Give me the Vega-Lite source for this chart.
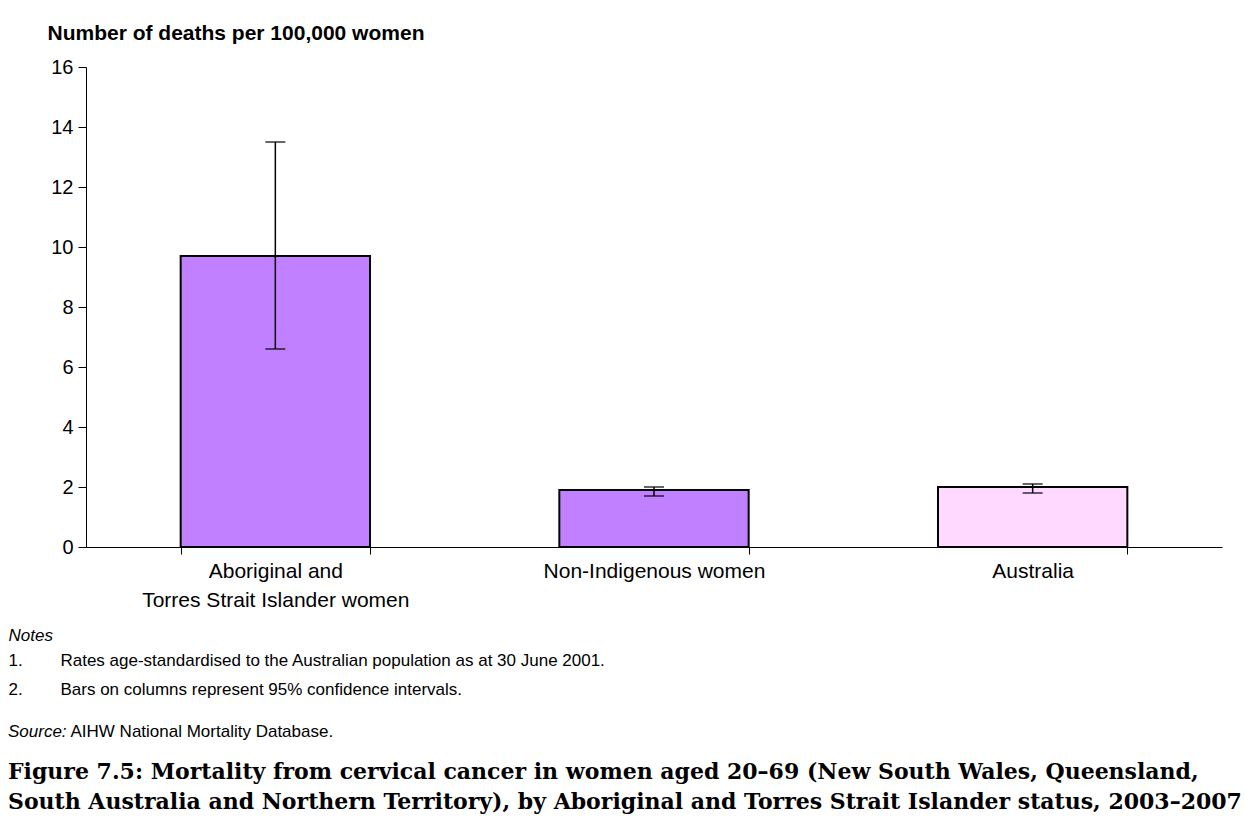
{
  "$schema": "https://vega.github.io/schema/vega-lite/v6.json",
  "width": 1136,
  "height": 480,
  "autosize": {"type": "none"},
  "padding": {"left": 86, "top": 67, "right": 23, "bottom": 272},
  "background": "white",
  "data": {
    "values": [
      {"group": "Aboriginal and Torres Strait Islander women", "rate": 9.7, "lower": 6.6, "upper": 13.5, "series": "Indigenous"},
      {"group": "Non-Indigenous women", "rate": 1.9, "lower": 1.7, "upper": 2.0, "series": "Non-Indigenous"},
      {"group": "Australia", "rate": 2.0, "lower": 1.8, "upper": 2.1, "series": "Australia"}
    ]
  },
  "title": {
    "text": "Source:",
    "subtitle": [
      "Figure 7.5: Mortality from cervical cancer in women aged 20–69 (New South Wales, Queensland,",
      "South Australia and Northern Territory), by Aboriginal and Torres Strait Islander status, 2003–2007"
    ],
    "orient": "bottom",
    "anchor": "start",
    "frame": "group",
    "dx": -78,
    "offset": -15,
    "font": "Liberation Sans",
    "fontSize": 17,
    "fontStyle": "italic",
    "fontWeight": "normal",
    "color": "black",
    "subtitleFont": "DejaVu Serif",
    "subtitleFontSize": 22,
    "subtitleFontWeight": "bold",
    "subtitleLineHeight": 30,
    "subtitleColor": "black",
    "subtitlePadding": 21
  },
  "layer": [
    {
      "encoding": {
        "x": {
          "field": "group",
          "type": "nominal",
          "sort": null,
          "scale": {"paddingInner": 0.5, "paddingOuter": 0.25},
          "axis": {
            "orient": "bottom",
            "title": "Notes",
            "titleFont": "Liberation Sans",
            "titleFontSize": 17,
            "titleFontStyle": "italic",
            "titleFontWeight": "normal",
            "titleColor": "black",
            "titleAlign": "left",
            "titleBaseline": "alphabetic",
            "titleX": -78,
            "titleY": 93,
            "labelExpr": "datum.value == 'Aboriginal and Torres Strait Islander women' ? ['Aboriginal and', 'Torres Strait Islander women'] : datum.value",
            "labelAngle": 0,
            "labelLimit": 0,
            "labelFont": "Liberation Sans",
            "labelFontSize": 21,
            "labelColor": "black",
            "labelLineHeight": 29,
            "labelPadding": 6,
            "tickBand": "extent",
            "tickSize": 7,
            "tickColor": "black",
            "domainColor": "black"
          }
        },
        "y": {
          "field": "rate",
          "type": "quantitative",
          "scale": {"domain": [0, 16], "nice": false},
          "axis": {
            "orient": "left",
            "title": "Number of deaths per 100,000 women",
            "titleAngle": 0,
            "titleAlign": "left",
            "titleBaseline": "alphabetic",
            "titleX": -39,
            "titleY": -28,
            "titleFont": "Liberation Sans",
            "titleFontSize": 21,
            "titleFontWeight": "bold",
            "titleColor": "black",
            "values": [0, 2, 4, 6, 8, 10, 12, 14, 16],
            "grid": false,
            "labelFont": "Liberation Sans",
            "labelFontSize": 20,
            "labelColor": "black",
            "labelPadding": 5,
            "tickSize": 8,
            "tickColor": "black",
            "domainColor": "black"
          }
        }
      },
      "layer": [
        {
          "mark": {"type": "bar", "stroke": "black", "strokeWidth": 2},
          "encoding": {
            "fill": {
              "field": "series",
              "type": "nominal",
              "scale": {"domain": ["Indigenous", "Non-Indigenous", "Australia"], "range": ["#C080FF", "#C080FF", "#FFD9FF"]},
              "legend": null
            }
          }
        },
        {
          "mark": {"type": "rule", "color": "black", "strokeWidth": 1.5},
          "encoding": {
            "y": {"field": "lower", "type": "quantitative"},
            "y2": {"field": "upper"}
          }
        }
      ]
    },
    {
      "encoding": {
        "x": {
          "field": "group",
          "type": "nominal",
          "sort": null,
          "scale": {"paddingInner": 0.5, "paddingOuter": 0.25},
          "axis": {
            "orient": "top",
            "title": "AIHW National Mortality Database.",
            "titleFont": "Liberation Sans",
            "titleFontSize": 17,
            "titleFontWeight": "normal",
            "titleColor": "black",
            "titleAlign": "left",
            "titleBaseline": "alphabetic",
            "titleX": -16,
            "titleY": 669,
            "labels": false,
            "ticks": false,
            "domain": false
          }
        }
      },
      "layer": [
        {
          "mark": {"type": "tick", "color": "black", "size": 20, "thickness": 1.2},
          "encoding": {
            "y": {
              "field": "lower",
              "type": "quantitative",
              "scale": {"domain": [0, 16], "nice": false},
              "axis": {
                "orient": "right",
                "title": [
                  "1.\u00a0\u00a0\u00a0\u00a0\u00a0\u00a0\u00a0\u00a0Rates age-standardised to the Australian population as at 30 June 2001.",
                  "2.\u00a0\u00a0\u00a0\u00a0\u00a0\u00a0\u00a0\u00a0Bars on columns represent 95% confidence intervals."
                ],
                "titleAngle": 0,
                "titleAlign": "left",
                "titleBaseline": "alphabetic",
                "titleX": -1214,
                "titleY": 598,
                "titleFont": "Liberation Sans",
                "titleFontSize": 17,
                "titleFontWeight": "normal",
                "titleColor": "black",
                "titleLineHeight": 29,
                "labels": false,
                "ticks": false,
                "domain": false,
                "grid": false
              }
            }
          }
        },
        {
          "mark": {"type": "tick", "color": "black", "size": 20, "thickness": 1.2},
          "encoding": {"y": {"field": "upper", "type": "quantitative"}}
        }
      ]
    }
  ],
  "resolve": {"scale": {"x": "independent", "y": "independent"}},
  "config": {
    "view": {"stroke": null},
    "tick": {"opacity": 1}
  }
}
